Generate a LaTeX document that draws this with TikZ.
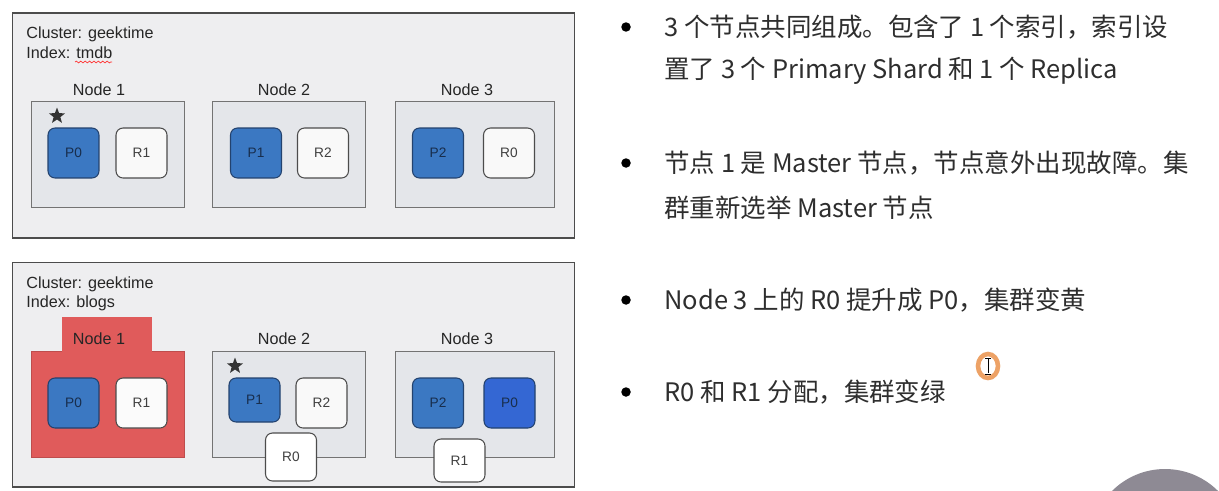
\documentclass[tikz,border=0pt]{standalone}
\usepackage{fontspec}
\setmainfont{Liberation Sans}
\newfontfamily\cjk{Noto Sans CJK SC}
\usetikzlibrary{shapes.geometric,decorations.pathmorphing}

\definecolor{panelgray}{HTML}{EEEEF0}
\definecolor{boxgray}{HTML}{E4E6EA}
\definecolor{shardblue}{HTML}{3B78C2}
\definecolor{shardedge}{HTML}{23426E}
\definecolor{promoted}{HTML}{3467D3}
\definecolor{downred}{HTML}{E05B5B}
\definecolor{textgray}{HTML}{2E2E2E}
\definecolor{cursorring}{HTML}{EDA266}
\definecolor{cameragray}{HTML}{8E8A94}

\tikzset{
  panel/.style={draw=black!70, fill=panelgray, line width=0.6pt,
    minimum width=11.26cm, minimum height=4.5cm},
  nodebox/.style={draw=black!55, fill=boxgray, line width=0.5pt,
    minimum width=3.06cm, minimum height=2.12cm},
  shard/.style={rounded corners=4pt, line width=0.6pt,
    minimum width=1.02cm, minimum height=1cm, inner sep=0pt,
    font=\fontsize{7.8}{9}\selectfont},
  primary/.style={shard, draw=shardedge, fill=shardblue, text=shardedge!70!black},
  replica/.style={shard, draw=black!70, fill=white!95!gray, text=black!75},
  nodelabel/.style={font=\fontsize{9.2}{11}\selectfont, text=black!85},
  infotext/.style={anchor=west, inner sep=0pt, font=\fontsize{9.2}{11}\selectfont, text=black!85},
  master/.style={star, star points=5, star point ratio=2.4, fill=black!80,
    minimum size=0.34cm, inner sep=0pt},
  bullet/.style={circle, fill=black, minimum size=0.19cm, inner sep=0pt},
  noteline/.style={anchor=west, inner sep=0pt, text=textgray,
    font=\cjk\fontsize{14.5}{16}\selectfont},
}

\begin{document}
\begin{tikzpicture}[x=0.02cm, y=-0.02cm]
  \useasboundingbox (0,0) rectangle (1219,490);
  \fill[white] (0,0) rectangle (1219,490);

  % before the failure
  \node[panel] (clustera) at (293.5,125.5) {};
  \node[infotext] (namea) at (26,34) {Cluster: geektime};
  \node[infotext] (indexa) at (26,53) {Index: tmdb};
  \draw[red!80, line width=0.4pt, decorate,
    decoration={snake, amplitude=0.5pt, segment length=2.5pt}] (75,62) -- (112,62);

  \node[nodelabel] (labela1) at (99,90) {Node 1};
  \node[nodelabel] (labela2) at (284,90) {Node 2};
  \node[nodelabel] (labela3) at (467,90) {Node 3};

  \node[nodebox] (nodea1) at (108,154) {};
  \node[nodebox] (nodea2) at (288.5,154) {};
  \node[nodebox, minimum width=3.18cm] (nodea3) at (474.5,154) {};

  \node[master] (mastera) at (57,116) {};
  \node[primary] (pa0) at (73.5,153) {P0};
  \node[replica] (ra1) at (141.5,153) {R1};
  \node[primary] (pa1) at (256,153) {P1};
  \node[replica] (ra2) at (323,153) {R2};
  \node[primary] (pa2) at (438,153) {P2};
  \node[replica] (ra0) at (509,153) {R0};

  % after node 1 went down
  \node[panel] (clusterb) at (293.5,374.5) {};
  \node[infotext] (nameb) at (26,284) {Cluster: geektime};
  \node[infotext] (indexb) at (26,303) {Index: blogs};

  \node[nodebox, fill=downred, draw=downred!85!black] (nodeb1) at (108,404) {};
  \fill[downred] (61.5,317) rectangle (152,351.5);
  \node[nodebox] (nodeb2) at (288.5,404) {};
  \node[nodebox, minimum width=3.18cm] (nodeb3) at (474.5,404) {};

  \node[nodelabel] (labelb1) at (99,339) {Node 1};
  \node[nodelabel] (labelb2) at (284,339) {Node 2};
  \node[nodelabel] (labelb3) at (467,339) {Node 3};

  \node[master] (masterb) at (235,366) {};
  \node[primary] (pb0) at (73.5,403) {P0};
  \node[replica, fill=white!97!gray] (rb1) at (141.5,403) {R1};
  \node[primary, minimum height=0.88cm] (pb1) at (254.5,400) {P1};
  \node[replica] (rb2) at (321.5,403) {R2};
  \node[primary] (pb2) at (438,403) {P2};
  \node[primary, fill=promoted] (pb0new) at (509.5,403) {P0};
  \node[replica, fill=white, minimum height=0.96cm] (rb0new) at (291,457) {R0};
  \node[replica, fill=white, minimum height=0.86cm] (rb1new) at (459.5,460.5) {R1};

  % notes
  \node[bullet] (dot1) at (626,27) {};
  \node[noteline] (note1a) at (664,27) {3 个节点共同组成。包含了 1 个索引，索引设};
  \node[noteline] (note1b) at (664,71) {置了 3 个 Primary Shard 和 1 个 Replica};
  \node[bullet] (dot2) at (626,163) {};
  \node[noteline] (note2a) at (664,163) {节点 1 是 Master 节点，节点意外出现故障。集};
  \node[noteline] (note2b) at (664,208) {群重新选举 Master 节点};
  \node[bullet] (dot3) at (626,300) {};
  \node[noteline] (note3) at (664,300) {Node 3 上的 R0 提升成 P0，集群变黄};
  \node[bullet] (dot4) at (626,392) {};
  \node[noteline] (note4) at (664,392) {R0 和 R1 分配，集群变绿};

  % screen leftovers
  \draw[cursorring, line width=2.6pt] (988,366) ellipse[x radius=0.2cm, y radius=0.24cm];
  \draw[black, line width=0.5pt] (988,359) -- (988,373)
    (985,358) -- (991,358) (985,374) -- (991,374);
  \begin{scope}
    \clip (0,0) rectangle (1219,490);
    \fill[cameragray] (1165,544) circle[radius=1.5cm];
  \end{scope}
\end{tikzpicture}
\end{document}
